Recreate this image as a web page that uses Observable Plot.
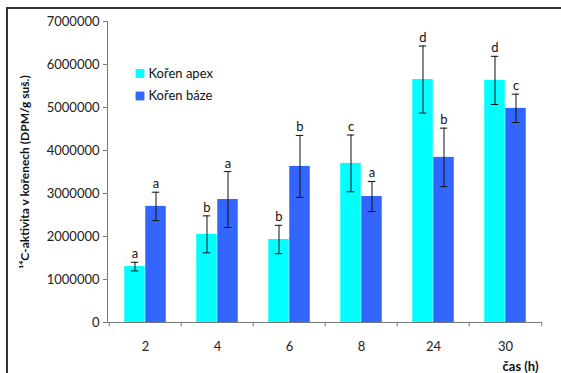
<!DOCTYPE html>
<html>
<head>
<meta charset="utf-8">
<script src="https://cdn.jsdelivr.net/npm/d3@7"></script>
<script src="https://cdn.jsdelivr.net/npm/@observablehq/plot@0.6"></script>
<style>
  html, body { margin: 0; padding: 0; background: #fff; overflow: hidden; }
  #wrap { position: relative; width: 561px; height: 373px; }
  #border { position: absolute; left: 6px; top: 7px; width: 700px; height: 500px;
            border-top: 2px solid #333; border-left: 2px solid #333; pointer-events: none; }
</style>
</head>
<body>
<div id="wrap"><div id="border"></div></div>
<script>
// ---- data ----
const categories = ["2", "4", "6", "8", "24", "30"];
const seriesNames = ["Kořen apex", "Kořen báze"];
const apexValues = [1300000, 2050000, 1930000, 3700000, 5650000, 5630000];
const apexErrors = [100000, 430000, 330000, 660000, 780000, 560000];
const apexLetters = ["a", "b", "b", "c", "d", "d"];
const bazeValues = [2700000, 2860000, 3630000, 2930000, 3840000, 4980000];
const bazeErrors = [330000, 650000, 720000, 350000, 680000, 330000];
const bazeLetters = ["a", "a", "b", "a", "b", "c"];
const yTicks = [0, 1000000, 2000000, 3000000, 4000000, 5000000, 6000000, 7000000];
const yTitle = "\u00B9\u2074C-aktivita v kořenech (DPM/g suš.)";
const xTitle = "čas (h)";

const colors = ["#00FFFF", "#3366FF"];

const apexRows = categories.map((c, i) => ({cat: c, v: apexValues[i], lo: apexValues[i] - apexErrors[i], hi: apexValues[i] + apexErrors[i], letter: apexLetters[i]}));
const bazeRows = categories.map((c, i) => ({cat: c, v: bazeValues[i], lo: bazeValues[i] - bazeErrors[i], hi: bazeValues[i] + bazeErrors[i], letter: bazeLetters[i]}));

const band = 72.5; // 435 / 6
const barW = 21;
const half = band / 2;
const off = barW / 2;
const cap = 8;

function errMarks(rows, sign) {
  const cx = half + sign * off;
  const capL = cx - cap / 2, capR = band - capL - cap;
  return [
    Plot.ruleX(rows, {x: "cat", y1: "lo", y2: "hi", dx: sign * off, stroke: "#111", strokeWidth: 1}),
    Plot.tickY(rows, {x: "cat", y: "hi", insetLeft: capL, insetRight: capR, stroke: "#111", strokeWidth: 1}),
    Plot.tickY(rows, {x: "cat", y: "lo", insetLeft: capL, insetRight: capR, stroke: "#111", strokeWidth: 1}),
    Plot.text(rows, {x: "cat", y: "hi", text: "letter", dx: sign * off, dy: -4, lineAnchor: "bottom", fontSize: 13, fill: "#111"})
  ];
}

const chart = Plot.plot({
  width: 561,
  height: 373,
  marginLeft: 107,
  marginRight: 19,
  marginTop: 21,
  marginBottom: 51,
  style: {fontFamily: "Lato, 'Open Sans', sans-serif", fontSize: "13px", background: "transparent"},
  x: {type: "band", domain: categories, padding: 0, label: null},
  y: {domain: [0, 7000000], label: null},
  marks: [
    Plot.barY(apexRows, {x: "cat", y: "v", fill: colors[0], insetLeft: half - barW, insetRight: half}),
    Plot.barY(bazeRows, {x: "cat", y: "v", fill: colors[1], insetLeft: half, insetRight: half - barW}),
    ...errMarks(apexRows, -1),
    ...errMarks(bazeRows, 1),
    Plot.frame({anchor: "left", stroke: "#777", strokeOpacity: 1}),
    Plot.ruleY([0], {stroke: "#777"}),
    Plot.ruleX(categories, {x: d => d, dx: -half, y1: 0, y2: -100000, stroke: "#777"}),
    Plot.ruleX([categories[categories.length - 1]], {x: d => d, dx: half, y1: 0, y2: -100000, stroke: "#777"}),
    Plot.axisY({ticks: yTicks, tickSize: 4, tickPadding: 4, tickFormat: d3.format("d"), label: null, stroke: "#777", fill: "#222", fontSize: 13}),
    Plot.axisX({tickSize: 0, tickPadding: 19, label: null, fill: "#222", fontSize: 13}),
    Plot.text([yTitle], {text: d => d, frameAnchor: "left", textAnchor: "middle", lineAnchor: "middle", rotate: -90, dx: -82, fontWeight: "bold", fontSize: 12, fill: "#111"}),
    Plot.text([xTitle], {text: d => d, frameAnchor: "bottom-right", textAnchor: "end", lineAnchor: "middle", dx: -4, dy: 44, fontWeight: "bold", fontSize: 13, fill: "#111"}),
    Plot.dot([seriesNames[0]], {frameAnchor: "top-left", dx: 32.5, dy: 52, symbol: "square", r: 5, fill: colors[0]}),
    Plot.dot([seriesNames[1]], {frameAnchor: "top-left", dx: 32.5, dy: 74.5, symbol: "square", r: 5, fill: colors[1]}),
    Plot.text([seriesNames[0]], {text: d => d, frameAnchor: "top-left", textAnchor: "start", lineAnchor: "middle", dx: 41, dy: 52, fontSize: 13, fill: "#111"}),
    Plot.text([seriesNames[1]], {text: d => d, frameAnchor: "top-left", textAnchor: "start", lineAnchor: "middle", dx: 41, dy: 74.5, fontSize: 13, fill: "#111"})
  ]
});
document.getElementById("wrap").prepend(chart);
</script>
</body>
</html>
